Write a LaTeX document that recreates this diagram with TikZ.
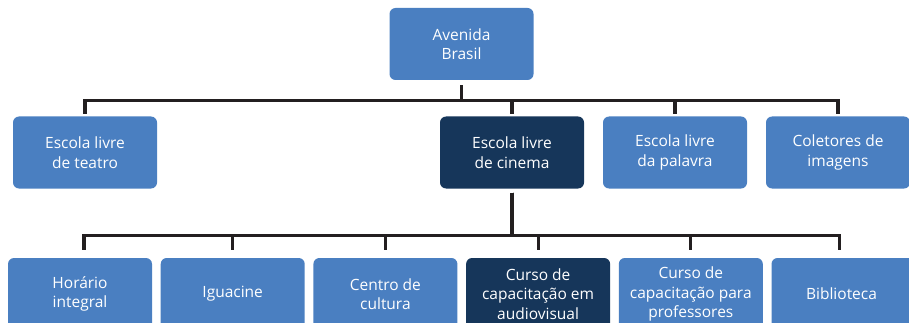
\documentclass[tikz,border=0pt]{standalone}
\usepackage{fontspec}
\setmainfont{Open Sans}
\usetikzlibrary{positioning}
\definecolor{boxblue}{HTML}{4A7FC1}
\definecolor{boxnavy}{HTML}{16365A}
\definecolor{linkblack}{HTML}{231F20}

\begin{document}
\begin{tikzpicture}
% Style
[
    x=1pt, y=-1pt,
    box/.style={
        fill=boxblue, text=white, rounded corners=6pt, align=center,
        minimum width=144pt, minimum height=72pt, inner sep=2pt,
        font=\fontsize{15.5}{19.5}\selectfont
    },
    boxdark/.style={box, fill=boxnavy},
    link/.style={draw=linkblack, line width=3.2pt}
]
\useasboundingbox (0,0) rectangle (909,323);
\clip (0,0) rectangle (909,323);

%=================================== Start ===================================
{
    \node[box] (avenida) at (461.5,44) {Avenida\\Brasil};

    \node[box]     (teatro)    at (85,152.5)  {Escola livre\\de teatro};
    \node[boxdark] (cinema)    at (512,152.5) {Escola livre\\de cinema};
    \node[box]     (palavra)   at (675,152.5) {Escola livre\\da palavra};
    \node[box]     (coletores) at (838,152.5) {Coletores de\\imagens};

    \foreach \name/\kind/\txt [count=\i] in {
        horario/box/{Horário\\integral},
        iguacine/box/{Iguacine},
        centro/box/{Centro de\\cultura},
        audiovisual/boxdark/{Curso de\\capacitação em\\audiovisual},
        professores/box/{Curso de\\capacitação para\\professores},
        biblioteca/box/{Biblioteca}
    } {
        \node[\kind] (\name) at ({80+152.7*(\i-1)},294) {\txt};
    }

    \foreach \child in {teatro, cinema, palavra, coletores} {
        \draw[link, shorten <=5pt, shorten >=2pt]
            (avenida.south) -- ++(0,20) -| (\child.north);
    }
    \foreach \child/\dx in {horario/4, iguacine/0, centro/0, audiovisual/0, professores/0, biblioteca/-4} {
        \draw[link, shorten <=4pt, shorten >=8pt]
            (cinema.south) -- ++(0,47) -| ([xshift=\dx pt]\child.north);
    }
}
%==================================== END ====================================

\end{tikzpicture}
\end{document}
